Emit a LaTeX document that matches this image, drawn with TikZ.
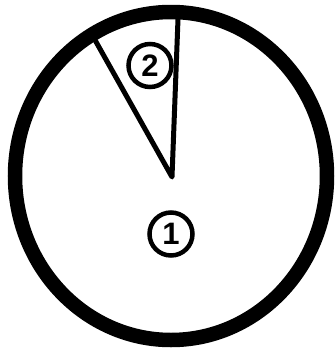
\documentclass[tikz,border=0pt]{standalone}
\usepackage{fontspec}
\setmainfont{Liberation Sans}
\usepackage{tikz}
\usetikzlibrary{positioning}

\begin{document}
\begin{tikzpicture}[
    x=1pt, y=-1pt,
    ring/.style={line width=14.5pt},
    wedgeline/.style={line width=5pt, line join=round, line cap=round},
    tag/.style={circle, draw, line width=4.5pt, minimum size=43pt, inner sep=0pt, font=\fontsize{31}{31}\selectfont\bfseries}
]
  \useasboundingbox (0,0) rectangle (336,349);

  % outer circle
  \draw[ring] (171,176) ellipse [x radius=156, y radius=164];

  % wedge
  \coordinate (apex) at (172,177);
  \coordinate (wl) at (95,40);
  \coordinate (wr) at (178,19);
  \draw[wedgeline] (wl) -- (apex) -- (wr);

  % zone labels
  \node[tag] (zone2) at (150,65.5) {2};
  \node[tag] (zone1) at (171,234) {1};
\end{tikzpicture}
\end{document}
